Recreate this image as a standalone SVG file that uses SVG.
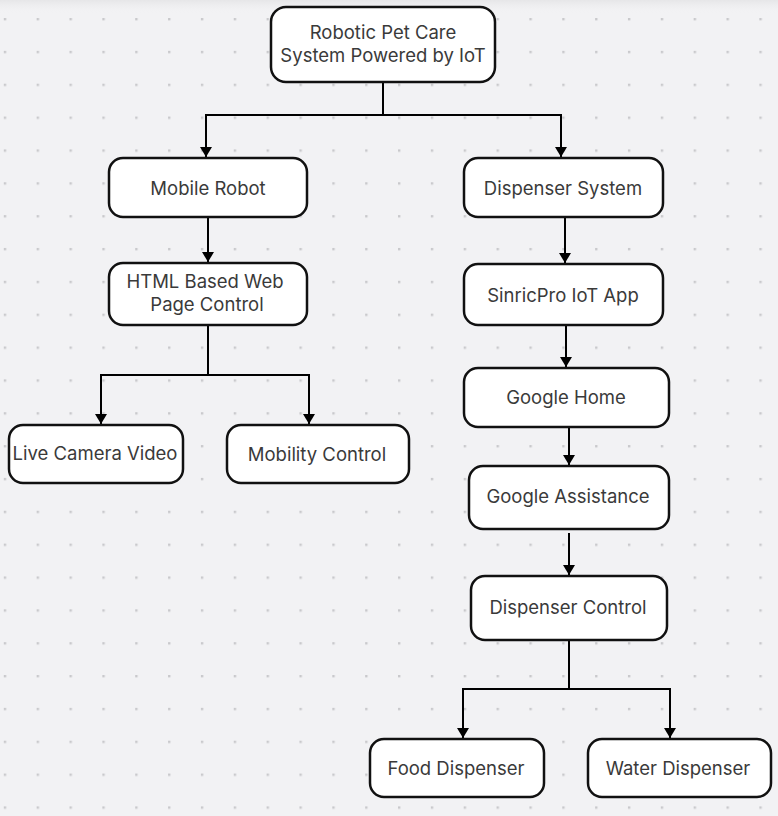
<svg xmlns="http://www.w3.org/2000/svg" width="778" height="816" viewBox="0 0 778 816">
<defs>
<pattern id="dots" x="3.8" y="18" width="32.85" height="32.85" patternUnits="userSpaceOnUse">
<rect x="0" y="0" width="2.4" height="2.4" fill="#c9c9cc"/>
</pattern>
<linearGradient id="topshade" x1="0" y1="0" x2="0" y2="1">
<stop offset="0" stop-color="#e6e6e8"/>
<stop offset="1" stop-color="#f2f2f4" stop-opacity="0"/>
</linearGradient>
<marker id="arr" markerWidth="10" markerHeight="12" refX="10" refY="6" orient="auto" markerUnits="userSpaceOnUse" viewBox="0 0 10 12">
<path d="M0,0 L10,6 L0,12 Z" fill="#000"/>
</marker>
</defs>
<style>
.node rect{fill:#fff;stroke:#111;stroke-width:2.5}
.node text{font-family:Inter,"Noto Sans","Liberation Sans",sans-serif;font-size:18.5px;fill:#3a3a3a;text-anchor:middle;dominant-baseline:central}
.conn path{fill:none;stroke:#000;stroke-width:2}
</style>
<rect width="778" height="816" fill="#f2f2f4"/>
<rect width="778" height="816" fill="url(#dots)"/>
<rect width="778" height="14" fill="url(#topshade)"/>
<g class="conn">
<path d="M383,82 V115 H206 V157" marker-end="url(#arr)"/>
<path d="M383,115 H561 V157" marker-end="url(#arr)"/>
<path d="M208,217 V262" marker-end="url(#arr)"/>
<path d="M565,217 V263" marker-end="url(#arr)"/>
<path d="M208,325 V375 H101 V424" marker-end="url(#arr)"/>
<path d="M208,375 H309 V424" marker-end="url(#arr)"/>
<path d="M566,325 V367" marker-end="url(#arr)"/>
<path d="M569,427 V465" marker-end="url(#arr)"/>
<path d="M569,533 V575" marker-end="url(#arr)"/>
<path d="M569,640 V689 H463 V738" marker-end="url(#arr)"/>
<path d="M569,689 H670 V738" marker-end="url(#arr)"/>
</g>
<g id="n-root" class="node"><rect x="271" y="7" width="224" height="75" rx="15"/><text x="383" y="32">Robotic Pet Care</text><text x="383" y="55">System Powered by IoT</text></g>
<g id="n-mobile" class="node"><rect x="109" y="158" width="198" height="59" rx="14"/><text x="208" y="188">Mobile Robot</text></g>
<g id="n-dispsys" class="node"><rect x="464" y="158" width="199" height="59" rx="14"/><text x="563" y="188">Dispenser System</text></g>
<g id="n-html" class="node"><rect x="109" y="263" width="198" height="62" rx="14"/><text x="205" y="281">HTML Based Web</text><text x="207" y="304">Page Control</text></g>
<g id="n-sinric" class="node"><rect x="464" y="264" width="199" height="61" rx="14"/><text x="563" y="295">SinricPro IoT App</text></g>
<g id="n-live" class="node"><rect x="9" y="425" width="174" height="58" rx="14"/><text x="95" y="453">Live Camera Video</text></g>
<g id="n-mobility" class="node"><rect x="227" y="425" width="182" height="58" rx="14"/><text x="317" y="454">Mobility Control</text></g>
<g id="n-ghome" class="node"><rect x="464" y="368" width="205" height="59" rx="14"/><text x="566" y="397">Google Home</text></g>
<g id="n-gassist" class="node"><rect x="469" y="466" width="200" height="63" rx="14"/><text x="568" y="496">Google Assistance</text></g>
<g id="n-dispctrl" class="node"><rect x="471" y="576" width="196" height="64" rx="14"/><text x="568" y="607">Dispenser Control</text></g>
<g id="n-food" class="node"><rect x="370" y="739" width="174" height="58" rx="14"/><text x="456" y="768">Food Dispenser</text></g>
<g id="n-water" class="node"><rect x="588" y="739" width="183" height="58" rx="14"/><text x="678" y="768">Water Dispenser</text></g>
</svg>
